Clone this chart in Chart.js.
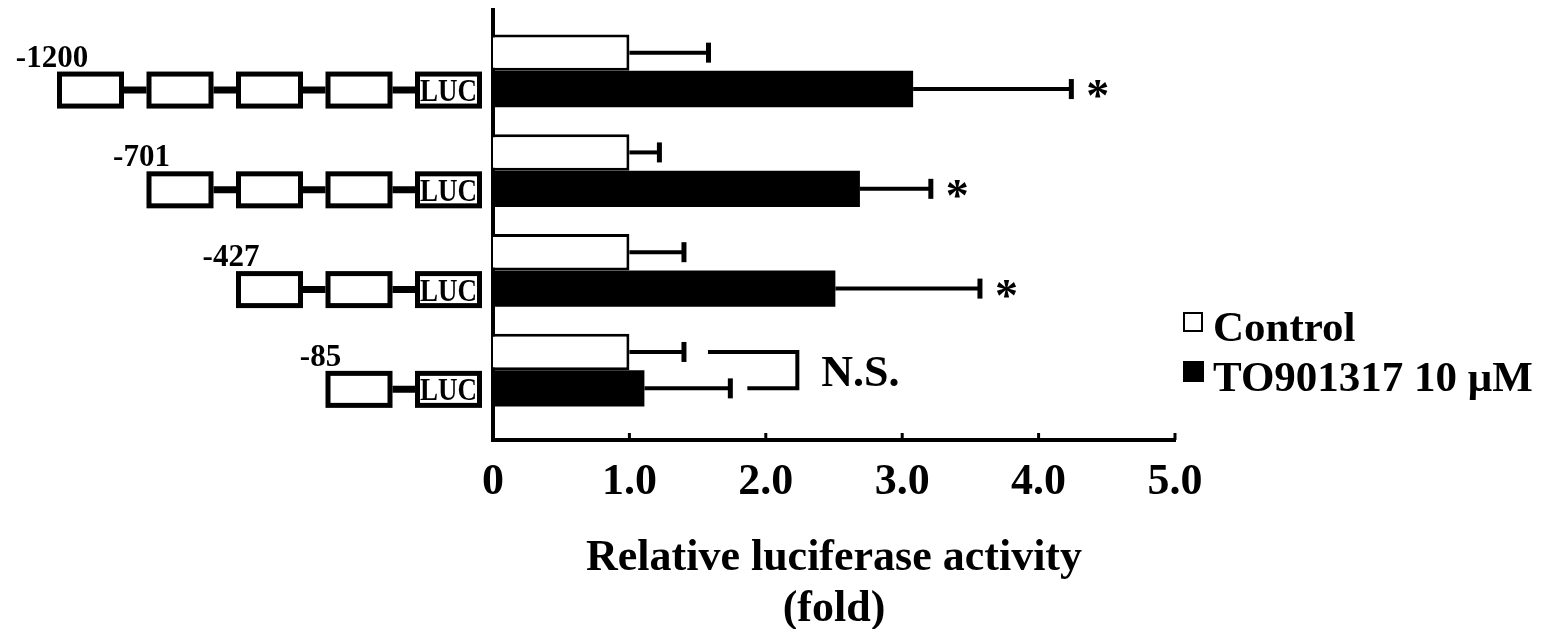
<!DOCTYPE html>
<html>
<head>
<meta charset="utf-8">
<script src="https://cdn.jsdelivr.net/npm/chart.js@4.4.1/dist/chart.umd.min.js"></script>
<style>
  html, body { margin: 0; padding: 0; background: #fff; }
  #wrap { width: 1553px; height: 629px; position: relative; }
</style>
</head>
<body>
<div id="wrap"><canvas id="luciferaseChart"></canvas></div>
<script>
// promoter constructs (one per row, top to bottom)
const constructs = ["-1200", "-701", "-427", "-85"];
const boxCounts = [4, 3, 2, 1];

// relative luciferase activity (fold) and error bars
const controlValues = [1.0, 1.0, 1.0, 1.0];
const controlErrors = [0.58, 0.22, 0.40, 0.40];
const treatedValues = [3.08, 2.69, 2.51, 1.11];
const treatedErrors = [1.16, 0.52, 1.06, 0.63];

const significance = ["*", "*", "*", "N.S."];
const xTickLabels = ["0", "1.0", "2.0", "3.0", "4.0", "5.0"];
const seriesNames = ["Control", "TO901317 10 μM"];

const SERIF = "'Liberation Serif', 'Times New Roman', serif";
function serif(size) {
  return "bold " + size + "px " + SERIF;
}

function line(ctx, x1, y1, x2, y2) {
  ctx.beginPath();
  ctx.moveTo(x1, y1);
  ctx.lineTo(x2, y2);
  ctx.stroke();
}

// Draws error bars, significance marks, promoter diagrams, legend and inner ticks
const annotations = {
  id: "annotations",
  afterDatasetsDraw: function (chart) {
    const ctx = chart.ctx;
    const xs = chart.scales.x;
    const area = chart.chartArea;
    const valSets = [controlValues, treatedValues];
    const errSets = [controlErrors, treatedErrors];
    const ctrlMeta = chart.getDatasetMeta(0);
    const trtMeta = chart.getDatasetMeta(1);

    ctx.save();
    ctx.strokeStyle = "#000";
    ctx.fillStyle = "#000";
    ctx.lineCap = "butt";

    // error bars
    [ctrlMeta, trtMeta].forEach(function (meta, d) {
      meta.data.forEach(function (bar, i) {
        const xEnd = xs.getPixelForValue(valSets[d][i] + errSets[d][i]);
        ctx.lineWidth = 4;
        line(ctx, bar.x, bar.y, xEnd, bar.y);
        ctx.lineWidth = 5;
        line(ctx, xEnd, bar.y - 10, xEnd, bar.y + 10);
      });
    });

    // significance marks
    constructs.forEach(function (c, i) {
      const top = ctrlMeta.data[i];
      const bot = trtMeta.data[i];
      const cEnd = xs.getPixelForValue(controlValues[i] + controlErrors[i]);
      const tEnd = xs.getPixelForValue(treatedValues[i] + treatedErrors[i]);
      ctx.textAlign = "left";
      ctx.textBaseline = "alphabetic";
      if (significance[i] === "*") {
        ctx.font = serif(46);
        ctx.fillText("*", tEnd + 15, bot.y + 22);
      } else {
        const bx = Math.max(cEnd, tEnd) + 67;
        ctx.lineWidth = 4;
        ctx.beginPath();
        ctx.moveTo(cEnd + 24, top.y);
        ctx.lineTo(bx, top.y);
        ctx.lineTo(bx, bot.y);
        ctx.lineTo(tEnd + 17, bot.y);
        ctx.stroke();
        ctx.font = serif(44);
        ctx.fillText(significance[i], bx + 24, (top.y + bot.y) / 2 + 16);
      }
    });

    // promoter-luciferase construct diagrams
    const boxW = 67, boxH = 37, pitch = 89.5, bw = 5;
    const lucRight = area.left - 11;
    constructs.forEach(function (label, i) {
      const yc = trtMeta.data[i].y + 1;
      const lefts = [];
      for (let k = boxCounts[i]; k >= 0; k--) lefts.push(lucRight - boxW - k * pitch);
      ctx.lineWidth = 7;
      line(ctx, lefts[0] + boxW / 2, yc, lucRight - boxW / 2, yc);
      lefts.forEach(function (l) {
        ctx.fillStyle = "#fff";
        ctx.fillRect(l, yc - boxH / 2, boxW, boxH);
        ctx.lineWidth = bw;
        ctx.strokeRect(l + bw / 2, yc - boxH / 2 + bw / 2, boxW - bw, boxH - bw);
      });
      ctx.fillStyle = "#000";
      ctx.textAlign = "center";
      ctx.font = serif(32);
      ctx.fillText("LUC", lucRight - boxW / 2, yc + 11, boxW - 10);
      ctx.font = serif(31);
      ctx.fillText(label, lefts[0] - 5, yc - boxH / 2 - 5);
    });

    // legend
    const lx = area.right + 8;
    chart.data.datasets.forEach(function (ds, d) {
      const base = area.bottom - 99 + d * 50;
      if (d === 0) {
        ctx.fillStyle = "#fff";
        ctx.fillRect(lx, base - 29, 20, 20);
        ctx.lineWidth = 2;
        ctx.strokeRect(lx + 1, base - 28, 18, 18);
      } else {
        ctx.fillStyle = "#000";
        ctx.fillRect(lx, base - 30, 21, 21);
      }
      ctx.fillStyle = "#000";
      ctx.textAlign = "left";
      ctx.font = serif(43);
      ctx.fillText(ds.label, lx + 30, base);
    });

    ctx.restore();
  },
  afterDraw: function (chart) {
    const ctx = chart.ctx;
    const xs = chart.scales.x;
    const area = chart.chartArea;
    ctx.save();
    ctx.strokeStyle = "#000";
    ctx.lineWidth = 3;
    xs.ticks.forEach(function (t) {
      if (t.value === 0) return;
      const x = xs.getPixelForValue(t.value);
      line(ctx, x, area.bottom, x, area.bottom - 7);
    });
    ctx.restore();
  },
};

const ctx = document.getElementById("luciferaseChart");

new Chart(ctx, {
  type: "bar",
  data: {
    datasets: [
      {
        label: seriesNames[0],
        data: constructs.map(function (c, i) { return { x: controlValues[i], y: i }; }),
        backgroundColor: "#fff",
        borderColor: "#000",
        borderWidth: 3,
      },
      {
        label: seriesNames[1],
        data: constructs.map(function (c, i) { return { x: treatedValues[i], y: i }; }),
        backgroundColor: "#000",
        borderWidth: 0,
      },
    ],
  },
  options: {
    indexAxis: "y",
    responsive: true,
    maintainAspectRatio: false,
    animation: false,
    categoryPercentage: 0.73,
    barPercentage: 1.0,
    layout: { padding: { left: 493, right: 378, top: 10, bottom: 0 } },
    plugins: {
      legend: { display: false },
      tooltip: { enabled: false },
    },
    scales: {
      x: {
        type: "linear",
        min: 0,
        max: 5,
        z: 1,
        grid: { display: false, drawTicks: false },
        border: { display: true, color: "#000", width: 4 },
        ticks: {
          stepSize: 1,
          padding: 16,
          color: "#000",
          font: { family: SERIF, size: 44, weight: "bold" },
          callback: function (v, i) { return xTickLabels[i]; },
        },
        title: {
          display: true,
          text: ["Relative luciferase activity", "(fold)"],
          color: "#000",
          font: { family: SERIF, size: 44, weight: "bold", lineHeight: 1.16 },
          padding: { top: 0, bottom: -6 },
        },
        afterFit: function (scale) { scale.height = 189; },
      },
      y: {
        type: "linear",
        reverse: true,
        offset: false,
        min: -0.61,
        max: 3.7,
        z: 1,
        grid: { display: false, drawTicks: false, offset: false },
        border: { display: true, color: "#000", width: 4 },
        ticks: { display: false },
        afterBuildTicks: function (scale) {
          scale.ticks = constructs.map(function (c, i) { return { value: i }; });
        },
        afterFit: function (scale) { scale.width = 0; },
      },
    },
  },
  plugins: [annotations],
});
</script>
</body>
</html>
